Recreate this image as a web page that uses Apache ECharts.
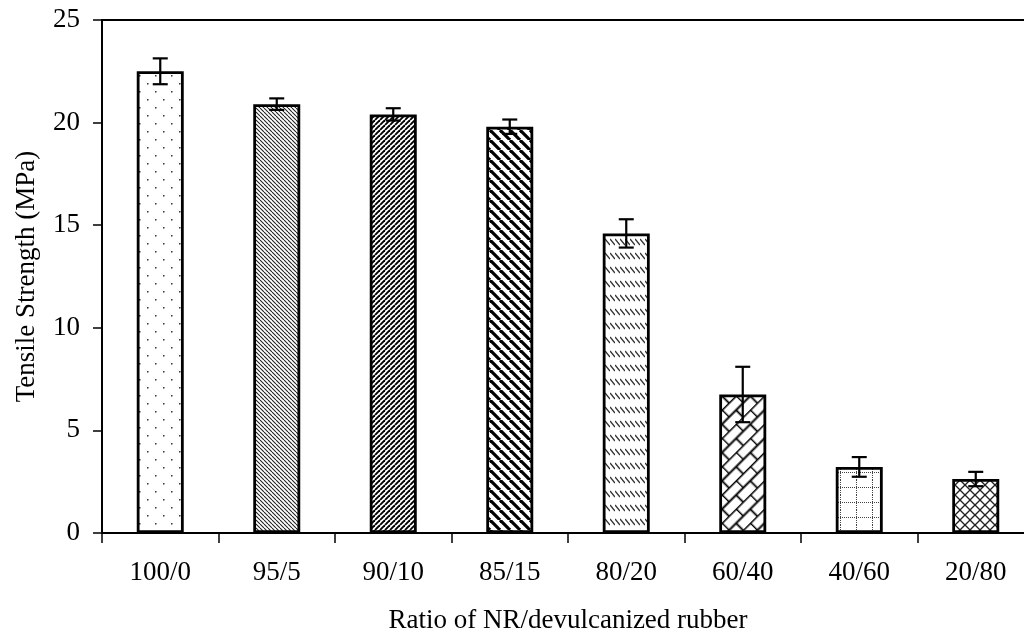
<!DOCTYPE html>
<html><head><meta charset="utf-8">
<script src="https://cdn.jsdelivr.net/npm/echarts@6/dist/echarts.min.js"></script>
<style>html,body{margin:0;padding:0;background:#fff;overflow:hidden;width:1024px;height:641px}#c{width:1034px;height:641px}</style>
</head><body><div id="c"></div>
<script>
const categories = ['100/0','95/5','90/10','85/15','80/20','60/40','40/60','20/80'];
const strength = [22.5, 20.9, 20.4, 19.8, 14.6, 6.75, 3.22, 2.63];
const errors = [0.63, 0.28, 0.30, 0.35, 0.69, 1.35, 0.48, 0.35];
const yTicks = [0, 5, 10, 15, 20, 25];

const FONT = '"Liberation Serif", "Times New Roman", serif';

function tile(w, h, draw) {
  const c = document.createElement('canvas');
  c.width = w; c.height = h;
  const g = c.getContext('2d');
  g.fillStyle = '#fff'; g.fillRect(0, 0, w, h);
  g.strokeStyle = '#000'; g.fillStyle = '#000';
  draw(g, w, h);
  return c;
}
function back(g, p, lw, col) { // "\" lines
  g.strokeStyle = col; g.lineWidth = lw;
  for (let k = -1; k <= 1; k++) { g.beginPath(); g.moveTo(k * p, 0); g.lineTo(k * p + p, p); g.stroke(); }
}
function fwd(g, p, lw, col) { // "/" lines
  g.strokeStyle = col; g.lineWidth = lw;
  for (let k = -1; k <= 1; k++) { g.beginPath(); g.moveTo(k * p, p); g.lineTo(k * p + p, 0); g.stroke(); }
}
const patterns = [
  { image: tile(16, 16, g => { g.fillStyle = '#333'; g.fillRect(3, 3, 1.5, 1.5); g.fillRect(11, 11, 1.5, 1.5); }), repeat: 'repeat' },
  { image: tile(4, 4, g => back(g, 4, 1.1, '#222')), repeat: 'repeat' },
  { image: tile(5, 5, g => fwd(g, 5, 1.9, '#000')), repeat: 'repeat' },
  { image: tile(10, 10, g => back(g, 10, 3.2, '#000')), repeat: 'repeat' },
  { image: tile(5, 14, g => { g.strokeStyle = '#333'; g.lineWidth = 1.3; g.beginPath(); g.moveTo(0, 1); g.lineTo(5, 7); g.stroke(); }), repeat: 'repeat' },
  { image: tile(20, 20, g => {
      g.strokeStyle = '#000'; g.lineWidth = 1.8;
      g.beginPath(); g.moveTo(0, 0.5); g.lineTo(20, 0.5); g.moveTo(0, 10.5); g.lineTo(20, 10.5);
      g.moveTo(0.5, 0); g.lineTo(0.5, 10); g.moveTo(10.5, 10); g.lineTo(10.5, 20); g.stroke();
    }), repeat: 'repeat', rotation: -Math.PI / 4 },
  { image: tile(16, 15, g => {
      g.fillStyle = '#444';
      for (let x = 0; x < 16; x += 2) g.fillRect(x, 7, 1, 1);
      for (let y = 0; y < 15; y += 2) g.fillRect(8, y, 1, 1);
    }), repeat: 'repeat' },
  { image: tile(10, 10, g => { back(g, 10, 1.3, '#222'); fwd(g, 10, 1.3, '#222'); }), repeat: 'repeat' }
];

const chart = echarts.init(document.getElementById('c'), null, { renderer: 'canvas' });
chart.setOption({
  backgroundColor: '#fff',
  animation: false,
  grid: { left: 102, top: 20, bottom: 108, right: 0, show: true, borderColor: '#000', borderWidth: 2 },
  xAxis: {
    type: 'category', data: categories,
    name: 'Ratio of NR/devulcanized rubber', nameLocation: 'middle', nameGap: 74,
    nameTextStyle: { fontFamily: FONT, fontSize: 27, color: '#000' },
    axisLine: { lineStyle: { color: '#000', width: 2 } },
    axisTick: { show: true, length: 10, lineStyle: { color: '#000', width: 1.5 } },
    axisLabel: { fontFamily: FONT, fontSize: 27, color: '#000', margin: 26 }
  },
  yAxis: {
    type: 'value', min: yTicks[0], max: yTicks[yTicks.length - 1], interval: 5,
    name: 'Tensile Strength (MPa)', nameLocation: 'middle', nameGap: 62, nameRotate: 90,
    nameTextStyle: { fontFamily: FONT, fontSize: 27, color: '#000' },
    axisLine: { show: true, lineStyle: { color: '#000', width: 2 } },
    axisTick: { show: true, length: 9, lineStyle: { color: '#000', width: 1.5 } },
    splitLine: { show: false },
    axisLabel: { fontFamily: FONT, fontSize: 27, color: '#000', margin: 22 }
  },
  series: [
    {
      type: 'bar', barWidth: 47,
      data: strength.map((v, i) => ({ value: v, itemStyle: { color: patterns[i] } })),
      itemStyle: { borderColor: '#000', borderWidth: 2.8 }
    },
    {
      type: 'custom', z: 10,
      data: strength.map((v, i) => [i, v + errors[i], v - errors[i]]),
      renderItem: (params, api) => {
        const top = api.coord([api.value(0), api.value(1)]);
        const bot = api.coord([api.value(0), api.value(2)]);
        const hw = 7.5;
        const st = { stroke: '#000', lineWidth: 2.2 };
        return {
          type: 'group', children: [
            { type: 'line', shape: { x1: top[0], y1: top[1], x2: bot[0], y2: bot[1] }, style: st },
            { type: 'line', shape: { x1: top[0] - hw, y1: top[1], x2: top[0] + hw, y2: top[1] }, style: st },
            { type: 'line', shape: { x1: bot[0] - hw, y1: bot[1], x2: bot[0] + hw, y2: bot[1] }, style: st }
          ]
        };
      }
    }
  ]
});
</script>
</body></html>
